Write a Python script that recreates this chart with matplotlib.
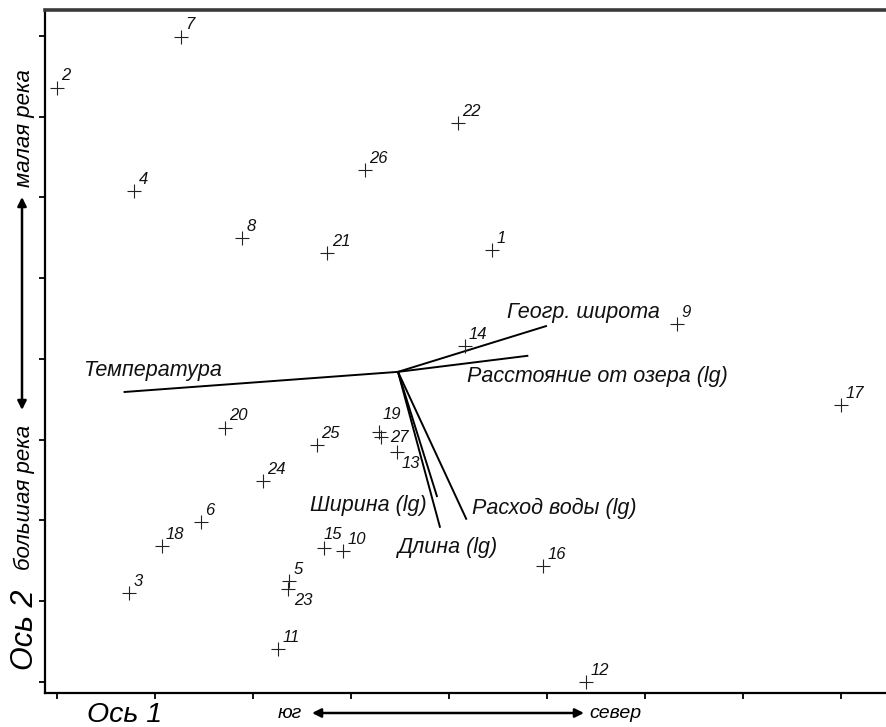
"""CCA-ординация: станции и векторы факторов среды (оси 1 и 2)."""
import matplotlib
matplotlib.use("Agg")
import matplotlib.pyplot as plt

plt.rcParams["font.family"] = ["Liberation Sans", "DejaVu Sans"]

# ── Станции (координаты по осям 1 и 2) ─────────────────────────────────────
site_ids = [1, 2, 3, 4, 5, 6, 7, 8, 9, 10, 11, 12, 13, 14,
            15, 16, 17, 18, 19, 20, 21, 22, 23, 24, 25, 26, 27]
site_x = [4.44, 0.00, 0.74, 0.79, 2.37, 1.47, 1.27, 1.89, 6.33, 2.92, 2.26, 5.40, 3.47, 4.16,
          2.73, 4.96, 8.00, 1.07, 3.29, 1.71, 2.76, 4.09, 2.36, 2.10, 2.65, 3.14, 3.31]
site_y = [5.35, 7.36, 1.10, 6.08, 1.25, 1.98, 7.99, 5.50, 4.43, 1.62, 0.41, 0.00, 2.85, 4.16,
          1.66, 1.44, 3.43, 1.68, 3.10, 3.15, 5.31, 6.92, 1.15, 2.49, 2.93, 6.34, 3.03]

# ── Факторы среды (векторы из общего начала) ───────────────────────────────
env_origin = (3.48, 3.84)
env_names = ["Температура", "Геогр. широта", "Расстояние от озера (lg)",
             "Ширина (lg)", "Длина (lg)", "Расход воды (lg)"]
env_x = [0.68, 5.00, 4.81, 3.88, 3.91, 4.18]
env_y = [3.59, 4.41, 4.04, 2.29, 1.91, 2.01]

W, H = 887, 727
fig = plt.figure(figsize=(W / 100, H / 100), dpi=100)
fig.patch.set_facecolor("white")
ax = fig.add_axes([45 / W, (H - 693) / H, (W - 45) / W, (693 - 10) / H])
ax.set_xlim(-0.122, 8.47)
ax.set_ylim(-0.136, 8.32)

# рамка: слева, снизу, сверху
ax.spines["right"].set_visible(False)
ax.spines["top"].set_linewidth(2.6)
ax.spines["top"].set_color("#3a3a3a")
ax.spines["left"].set_linewidth(1.6)
ax.spines["bottom"].set_linewidth(1.6)
ax.set_xticks(range(0, 9))
ax.set_yticks(range(0, 9))
ax.tick_params(direction="out", length=4, width=1.3, labelbottom=False, labelleft=False)

# векторы
ox, oy = env_origin
for ex, ey in zip(env_x, env_y):
    ax.plot([ox, ex], [oy, ey], color="black", lw=1.4, solid_capstyle="butt", zorder=2)

# подписи векторов
lab_pos = {
    "Температура": (0.265, 3.86),
    "Геогр. широта": (4.59, 4.57),
    "Расстояние от озера (lg)": (4.18, 3.78),
    "Ширина (lg)": (2.58, 2.19),
    "Длина (lg)": (3.48, 1.66),
    "Расход воды (lg)": (4.24, 2.15),
}
for name in env_names:
    lx, ly = lab_pos[name]
    ax.text(lx, ly, name, ha="left", va="center", fontsize=15.5,
            style="italic", color="#111111", zorder=3)

# станции
ax.plot(site_x, site_y, linestyle="none", marker="+", markersize=10,
        markeredgewidth=0.8, color="#222222", zorder=4)

offsets = {13: (3, -3, "top"), 23: (4, -3, "top"), 19: (2, 7, "bottom"),
           27: (6, 0, "center"), 15: (-1, 4, "bottom")}
for sid, sx, sy in zip(site_ids, site_x, site_y):
    dx, dy, va = offsets.get(sid, (3, 3, "bottom"))
    ax.annotate(str(sid), (sx, sy), xytext=(dx, dy), textcoords="offset points",
                ha="left", va=va, fontsize=12, style="italic", color="#111111", zorder=5)


# ── подписи осей и направления (вне поля графика) ──────────────────────────
def fx(px):
    return px / W


def fy(py):
    return 1 - py / H


fig.text(fx(125), fy(715), "Ось 1", ha="center", va="center", fontsize=20.5, style="italic")
fig.text(fx(25), fy(630), "Ось 2", ha="center", va="center", fontsize=22,
         style="italic", rotation=90)
fig.text(fx(25), fy(128), "малая река", ha="center", va="center", fontsize=16,
         style="italic", rotation=90)
fig.text(fx(24), fy(497), "большая река", ha="center", va="center", fontsize=16,
         style="italic", rotation=90)
fig.text(fx(290), fy(714), "юг", ha="center", va="center", fontsize=14, style="italic")
fig.text(fx(615), fy(714), "север", ha="center", va="center", fontsize=14, style="italic")

arrow_kw = dict(arrowstyle="<|-|>", color="black", lw=1.8, mutation_scale=13,
                shrinkA=0, shrinkB=0)
ax.annotate("", xy=(fx(22), fy(197)), xytext=(fx(22), fy(410)),
            xycoords="figure fraction", textcoords="figure fraction",
            arrowprops=arrow_kw, annotation_clip=False)
ax.annotate("", xy=(fx(584), fy(713)), xytext=(fx(312), fy(713)),
            xycoords="figure fraction", textcoords="figure fraction",
            arrowprops=arrow_kw, annotation_clip=False)

fig.savefig("out.png", dpi=100, facecolor=fig.get_facecolor())
